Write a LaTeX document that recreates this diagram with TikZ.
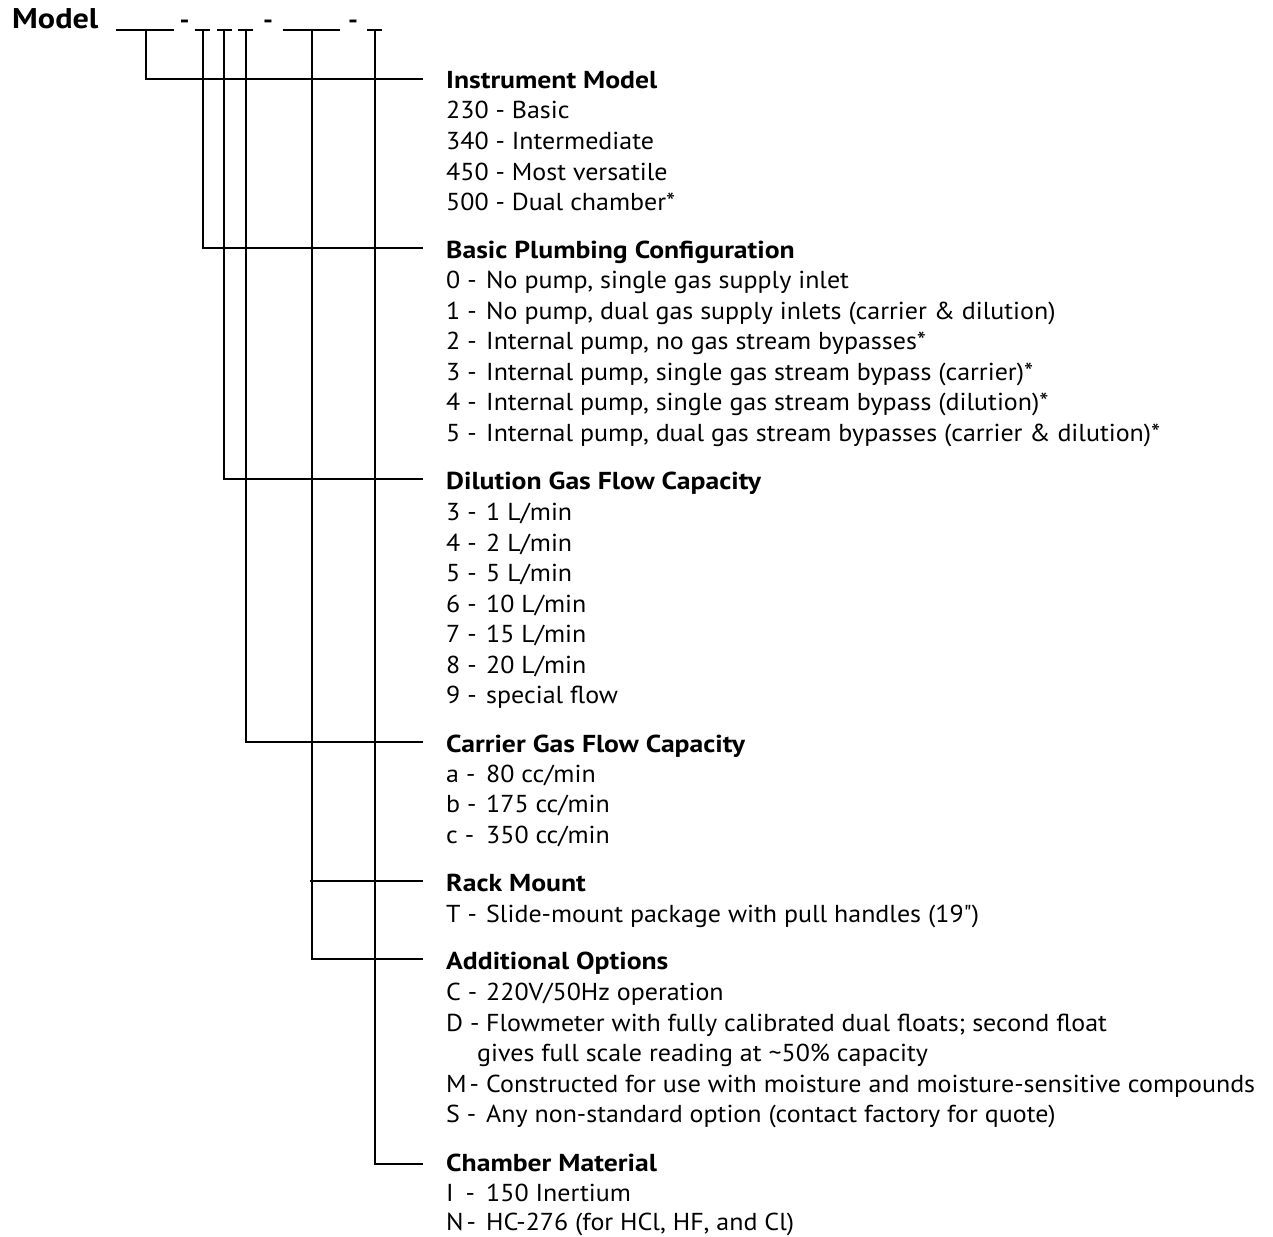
\documentclass[tikz,border=0pt]{standalone}
\usepackage{fontspec}
\setmainfont{PT Sans}[FakeStretch=1.06, BoldFeatures={FakeStretch=1.13}]
\font\qfont="PT Sans" at 24.5pt
\newcommand\fsz{\fontsize{24.5}{28}\selectfont}
\tikzset{
  x=1pt, y=-1pt,
  head/.style={anchor=base west, inner sep=0pt, font=\fsz\bfseries},
  lbl/.style={anchor=base west, inner sep=0pt, font=\fsz},
  txt/.style={anchor=base west, inner sep=0pt, font=\fsz},
  dsh/.style={anchor=base, inner sep=0pt, font=\fsz\bfseries},
  blank/.style={line width=1.7pt},
  conn/.style={line width=1.1pt}
}
\begin{document}
\begin{tikzpicture}
\useasboundingbox (0,0) rectangle (1273,1236);
% Model line
\node[anchor=base west, inner sep=0pt, font=\fontsize{28.5}{32}\selectfont\bfseries] (model) at (12,29) {Model};
\coordinate (u1a) at (116,30); \coordinate (u1b) at (174,30);
\coordinate (u2a) at (195,30); \coordinate (u2b) at (210,30);
\coordinate (u3a) at (217,30); \coordinate (u3b) at (232,30);
\coordinate (u4a) at (238,30); \coordinate (u4b) at (253,30);
\coordinate (u5a) at (283,30); \coordinate (u5b) at (340,30);
\coordinate (u6a) at (367,30); \coordinate (u6b) at (382,30);
\foreach \i in {1,...,6} { \draw[blank] (u\i a) -- (u\i b); }
\node[dsh] (d1) at (184.5,29) {-};
\node[dsh] (d2) at (268,29) {-};
\node[dsh] (d3) at (353,29) {-};
% vertical start points
\coordinate (v1) at (146,30);
\coordinate (v2) at (203,30);
\coordinate (v3) at (224,30);
\coordinate (v4) at (246,30);
\coordinate (v5) at (312,30);
\coordinate (v6) at (375,30);
% line ends
\coordinate (e1) at (423,79);
\coordinate (e2) at (423,248);
\coordinate (e3) at (423,479);
\coordinate (e4) at (423,742);
\coordinate (e5) at (423,881);
\coordinate (r5) at (310,881);
\coordinate (e6) at (423,959);
\coordinate (e7) at (423,1164);
\draw[conn] (v1) |- (e1);
\draw[conn] (v2) |- (e2);
\draw[conn] (v3) |- (e3);
\draw[conn] (v4) |- (e4);
\draw[conn] (r5) -- (e5);
\draw[conn] (v5) |- (e6);
\draw[conn] (v6) |- (e7);
% Section 1
\node[head] (h1) at (446,88.5) {Instrument Model};
\node[txt] (s1a) at (446,119) {230 - Basic};
\node[txt] (s1b) at (446,149.5) {340 - Intermediate};
\node[txt] (s1c) at (446,180) {450 - Most versatile};
\node[txt] (s1d) at (446,210.5) {500 - Dual chamber*};
% Section 2
\node[head] (h2) at (446,258) {Basic Plumbing Configuration};
\node[lbl] (l2a) at (446,288.5) {0 -}; \node[txt] (s2a) at (486,288.5) {No pump, single gas supply inlet};
\node[lbl] (l2b) at (446,319) {1 -}; \node[txt] (s2b) at (486,319) {No pump, dual gas supply inlets (carrier \& dilution)};
\node[lbl] (l2c) at (446,349.5) {2 -}; \node[txt] (s2c) at (486,349.5) {Internal pump, no gas stream bypasses*};
\node[lbl] (l2d) at (446,380) {3 -}; \node[txt] (s2d) at (486,380) {Internal pump, single gas stream bypass (carrier)*};
\node[lbl] (l2e) at (446,410.5) {4 -}; \node[txt] (s2e) at (486,410.5) {Internal pump, single gas stream bypass (dilution)*};
\node[lbl] (l2f) at (446,441) {5 -}; \node[txt] (s2f) at (486,441) {Internal pump, dual gas stream bypasses (carrier \& dilution)*};
% Section 3
\node[head] (h3) at (446,489.5) {Dilution Gas Flow Capacity};
\node[lbl] (l3a) at (446,520.5) {3 -}; \node[txt] (s3a) at (486,520.5) {1 L/min};
\node[lbl] (l3b) at (446,551) {4 -}; \node[txt] (s3b) at (486,551) {2 L/min};
\node[lbl] (l3c) at (446,581.5) {5 -}; \node[txt] (s3c) at (486,581.5) {5 L/min};
\node[lbl] (l3d) at (446,612) {6 -}; \node[txt] (s3d) at (486,612) {10 L/min};
\node[lbl] (l3e) at (446,642.5) {7 -}; \node[txt] (s3e) at (486,642.5) {15 L/min};
\node[lbl] (l3f) at (446,673) {8 -}; \node[txt] (s3f) at (486,673) {20 L/min};
\node[lbl] (l3g) at (446,703.5) {9 -}; \node[txt] (s3g) at (486,703.5) {special flow};
% Section 4
\node[head] (h4) at (446,752.5) {Carrier Gas Flow Capacity};
\node[lbl] (l4a) at (446,782) {a -}; \node[txt] (s4a) at (486,782) {80 cc/min};
\node[lbl] (l4b) at (446,812.5) {b -}; \node[txt] (s4b) at (486,812.5) {175 cc/min};
\node[lbl] (l4c) at (446,843) {c -}; \node[txt] (s4c) at (486,843) {350 cc/min};
% Section 5
\node[head] (h5) at (446,891.5) {Rack Mount};
\node[lbl] (l5a) at (446,922.5) {T -}; \node[txt] (s5a) at (486,922.5) {Slide-mount package with pull handles (19{\qfont"})};
% Section 6
\node[head] (h6) at (446,969.5) {Additional Options};
\node[lbl] (l6a) at (446,1000.5) {C -}; \node[txt] (s6a) at (486,1000.5) {220V/50Hz operation};
\node[lbl] (l6b) at (446,1031) {D -}; \node[txt] (s6b) at (486,1031) {Flowmeter with fully calibrated dual floats; second float};
\node[txt] (s6c) at (477,1061.5) {gives full scale reading at \textasciitilde50\% capacity};
\node[lbl] (l6d) at (446,1092) {M\kern3pt-}; \node[txt] (s6d) at (486,1092) {Constructed for use with moisture and moisture-sensitive compounds};
\node[lbl] (l6e) at (446,1122.5) {S -}; \node[txt] (s6e) at (486,1122.5) {Any non-standard option (contact factory for quote)};
% Section 7
\node[head] (h7) at (446,1171) {Chamber Material};
\node[lbl] (l7a) at (446,1201) {I\kern5pt\ -}; \node[txt] (s7a) at (486,1201) {150 Inertium};
\node[lbl] (l7b) at (446,1230) {N\kern3pt-}; \node[txt] (s7b) at (486,1230) {HC-276 (for HCl, HF, and Cl)};
\end{tikzpicture}
\end{document}
